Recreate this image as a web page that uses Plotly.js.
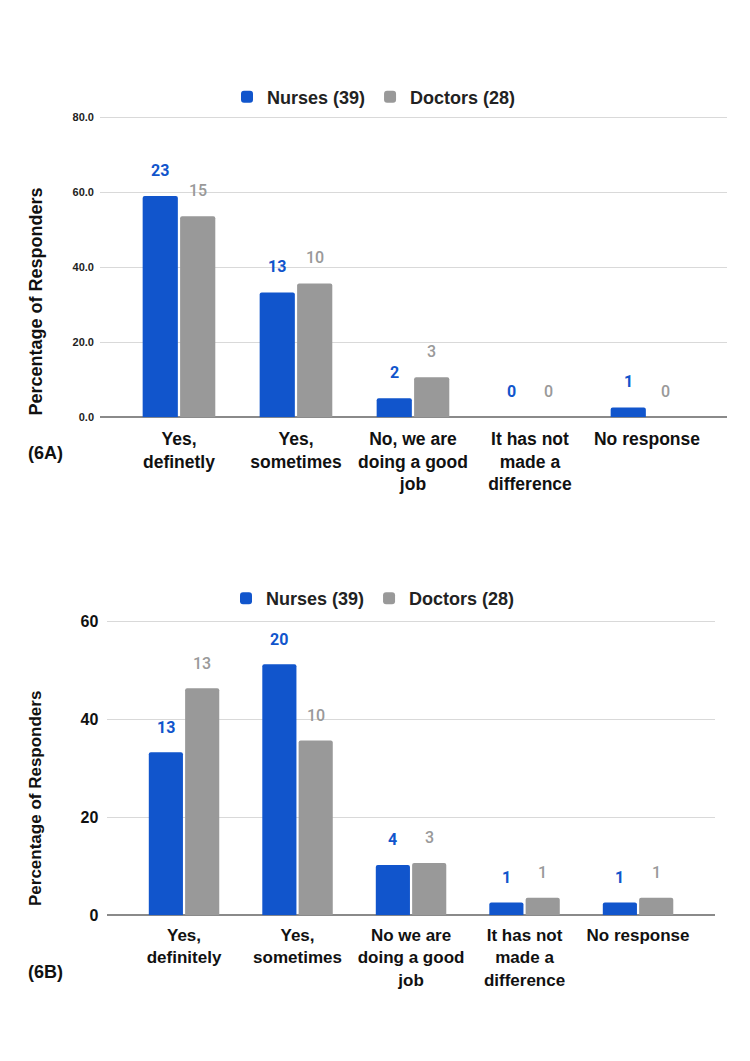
<!DOCTYPE html>
<html>
<head>
<meta charset="utf-8">
<script src="https://cdn.plot.ly/plotly-3.0.1.min.js"></script>
<style>html,body{margin:0;padding:0;background:#fff;}#chart{width:750px;height:1061px;}</style>
</head>
<body>
<div id="chart"></div>
<script>
// ---- Data (6A) ----
var categoriesA = ['Yes,<br>definetly', 'Yes,<br>sometimes', 'No, we are<br>doing a good<br>job', 'It has not<br>made a<br>difference', 'No response'];
var nursesA = [59.0, 33.3, 5.1, 0, 2.6];
var doctorsA = [53.6, 35.7, 10.7, 0, 0];
var nursesCountA = [23, 13, 2, 0, 1];
var doctorsCountA = [15, 10, 3, 0, 0];

// ---- Data (6B) ----
var categoriesB = ['Yes,<br>definitely', 'Yes,<br>sometimes', 'No we are<br>doing a good<br>job', 'It has not<br>made a<br>difference', 'No response'];
var nursesB = [33.3, 51.3, 10.3, 2.6, 2.6];
var doctorsB = [46.4, 35.7, 10.7, 3.6, 3.6];
var nursesCountB = [13, 20, 4, 1, 1];
var doctorsCountB = [13, 10, 3, 1, 1];

var seriesNames = ['Nurses (39)', 'Doctors (28)'];
var yTicksA = [0, 20, 40, 60, 80];
var yTicksB = [0, 20, 40, 60];

var BLUE = '#1155cc', GRAY = '#999999';
var F = 'Liberation Sans, Arial, sans-serif';

var traces = [
  {type:'bar', x:categoriesA, y:nursesA, name:seriesNames[0], marker:{color:BLUE, cornerradius:2}, xaxis:'x', yaxis:'y', legend:'legend', hoverinfo:'none'},
  {type:'bar', x:categoriesA, y:doctorsA, name:seriesNames[1], marker:{color:GRAY, cornerradius:2}, xaxis:'x', yaxis:'y', legend:'legend', hoverinfo:'none'},
  {type:'bar', x:categoriesB, y:nursesB, name:seriesNames[0], marker:{color:BLUE, cornerradius:2}, xaxis:'x2', yaxis:'y2', legend:'legend2', hoverinfo:'none'},
  {type:'bar', x:categoriesB, y:doctorsB, name:seriesNames[1], marker:{color:GRAY, cornerradius:2}, xaxis:'x2', yaxis:'y2', legend:'legend2', hoverinfo:'none'}
];

var ann = [];
function addLabels(vals, counts, xr, yr, off, color, weight, shift) {
  for (var i = 0; i < vals.length; i++) {
    ann.push({xref:xr, yref:yr, x:i + off, y:vals[i], text:String(counts[i]), showarrow:false,
      yanchor:'middle', xanchor:'center', yshift:shift,
      font:{family:'Roboto, sans-serif', size:16, color:color, weight:weight}});
  }
}
addLabels(nursesA, nursesCountA, 'x', 'y', -0.16, BLUE, 700, 26);
addLabels(doctorsA, doctorsCountA, 'x', 'y', 0.16, GRAY, 500, 26);
addLabels(nursesB, nursesCountB, 'x2', 'y2', -0.16, BLUE, 700, 25);
addLabels(doctorsB, doctorsCountB, 'x2', 'y2', 0.16, GRAY, 500, 25);

ann.push({xref:'paper', yref:'paper', x:35/750, y:(1061-301.5)/1061, text:'Percentage of Responders', textangle:-90, showarrow:false, xanchor:'center', yanchor:'middle', font:{family:F, size:18, color:'#111', weight:700}});
ann.push({xref:'paper', yref:'paper', x:35/750, y:(1061-799)/1061, text:'Percentage of Responders', textangle:-90, showarrow:false, xanchor:'center', yanchor:'middle', font:{family:F, size:17, color:'#111', weight:700}});
ann.push({xref:'paper', yref:'paper', x:26/750, y:(1061-453)/1061, text:'(6A)', showarrow:false, xanchor:'left', yanchor:'middle', font:{family:F, size:18, color:'#111', weight:700}});
ann.push({xref:'paper', yref:'paper', x:26/750, y:(1061-971.7)/1061, text:'(6B)', showarrow:false, xanchor:'left', yanchor:'middle', font:{family:F, size:18, color:'#111', weight:700}});

var layout = {
  width:750, height:1061,
  margin:{l:0, r:0, t:0, b:0},
  paper_bgcolor:'#fff', plot_bgcolor:'#fff',
  barmode:'group', bargap:0.36, bargroupgap:0.06,
  showlegend:true,
  xaxis:{domain:[100/750, 727/750], anchor:'y', type:'category', range:[-0.675, 4.684],
    tickfont:{family:F, size:17.5, color:'#111', weight:700}, showgrid:false, zeroline:false, showline:false, ticks:'', ticklabelstandoff:9},
  yaxis:{domain:[(1061-417.3)/1061, (1061-115.8)/1061], anchor:'x', range:[0, 80.4], tickvals:yTicksA, tickformat:'.1f',
    tickfont:{family:F, size:11, color:'#222', weight:700}, gridcolor:'#d9d9d9', gridwidth:1,
    zeroline:true, zerolinecolor:'#8a8a8a', zerolinewidth:2, showline:false, ticks:'', ticklabelstandoff:5},
  xaxis2:{domain:[107.3/750, 715/750], anchor:'y2', type:'category', range:[-0.676, 4.678],
    tickfont:{family:F, size:17, color:'#111', weight:700}, showgrid:false, zeroline:false, showline:false, ticks:'', ticklabelstandoff:8},
  yaxis2:{domain:[(1061-915.3)/1061, (1061-620.2)/1061], anchor:'x2', range:[0, 60.3], tickvals:yTicksB,
    tickfont:{family:F, size:16, color:'#111', weight:700}, gridcolor:'#d9d9d9', gridwidth:1,
    zeroline:true, zerolinecolor:'#8a8a8a', zerolinewidth:2, showline:false, ticks:'', ticklabelstandoff:8},
  legend:{orientation:'h', x:227/750, xanchor:'left', y:(1061-97)/1061, yanchor:'middle', bgcolor:'rgba(0,0,0,0)',
    font:{family:F, size:18, color:'#222', weight:700}, itemclick:false, itemdoubleclick:false},
  legend2:{orientation:'h', x:226/750, xanchor:'left', y:(1061-598.5)/1061, yanchor:'middle', bgcolor:'rgba(0,0,0,0)',
    font:{family:F, size:18, color:'#222', weight:700}, itemclick:false, itemdoubleclick:false},
  annotations:ann
};

Plotly.newPlot('chart', traces, layout, {displayModeBar:false, staticPlot:true});
</script>
</body>
</html>
